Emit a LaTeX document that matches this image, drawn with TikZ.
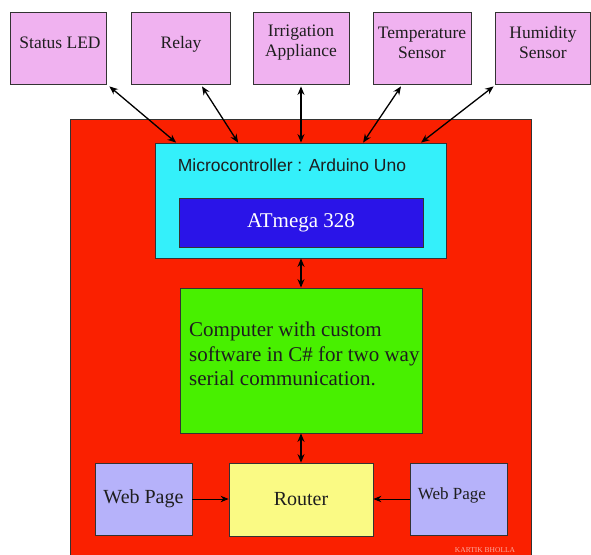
\documentclass[tikz,border=0pt]{standalone}
\usepackage{fontspec}
\setmainfont{Liberation Serif}
\newfontfamily\uisans{Liberation Sans}
\usetikzlibrary{arrows.meta,calc}
\definecolor{pinkbox}{RGB}{240,178,240}
\definecolor{redbg}{RGB}{250,32,0}
\definecolor{cyanbox}{RGB}{52,240,250}
\definecolor{bluebox}{RGB}{42,20,232}
\definecolor{greenbox}{RGB}{72,240,0}
\definecolor{yellowbox}{RGB}{250,250,132}
\definecolor{lavbox}{RGB}{182,178,250}
\definecolor{inktext}{RGB}{30,30,30}
\definecolor{signcol}{RGB}{250,170,160}
\tikzset{
  x=1pt,y=-1pt,
  boxbase/.style={draw=black!80,line width=0.8pt,inner sep=0pt,text=inktext,align=center},
  topbox/.style={boxbase,fill=pinkbox,minimum height=72pt},
  toptext/.style={inner sep=0pt,text=inktext,align=center,font=\rmfamily\fontsize{17.5}{20}\selectfont},
  webbox/.style={boxbase,fill=lavbox,minimum height=72pt},
  biarrow/.style={{Stealth[length=8.5pt,width=7pt]}-{Stealth[length=8.5pt,width=7pt]},line width=1.3pt,black},
  onearrow/.style={-{Stealth[length=8pt,width=6.5pt]},line width=0.9pt,black},
}
\begin{document}
\begin{tikzpicture}
\useasboundingbox (0,0) rectangle (591,554);
\fill[white] (0,0) rectangle (591,554);
% red background
\draw[fill=redbg,draw=black!80,line width=0.8pt] (70,119) rectangle (531,560);
% top boxes
\node[topbox,minimum width=96pt] (sled) at (58,48) {};
\node[topbox,minimum width=99pt] (relay) at (180.5,48) {};
\node[topbox,minimum width=96pt] (irr) at (301,48) {};
\node[topbox,minimum width=98pt] (temp) at (422,48) {};
\node[topbox,minimum width=95pt] (hum) at (542.5,48) {};
\node[toptext] (sledtxt) at (60,43) {Status LED};
\node[toptext] (relaytxt) at (181,44) {Relay};
\node[toptext] (irrtxt) at (301,42.5) {Irrigation\\Appliance};
\node[toptext] (temptxt) at (422,42.5) {Temperature\\Sensor};
\node[toptext] (humtxt) at (543,42.5) {Humidity\\Sensor};
% microcontroller
\node[boxbase,fill=cyanbox,minimum width=291pt,minimum height=115pt] (mcu) at (300.5,200.5) {};
\node[text=inktext,font=\uisans\fontsize{17.5}{20}\selectfont,inner sep=0pt] (mcutxt) at (292,165) {Microcontroller : Arduino Uno};
\node[boxbase,fill=bluebox,minimum width=244pt,minimum height=49pt,text=white,font=\fontsize{21}{24}\selectfont] (atm) at (301,222.5) {ATmega 328};
% computer
\node[boxbase,fill=greenbox,minimum width=242pt,minimum height=145pt] (pc) at (301,360.5) {};
\node[text=inktext,align=left,inner sep=0pt,anchor=west,font=\fontsize{21}{24.5}\selectfont] (pctxt) at (189,354) {Computer with custom\\software in C\# for two way\\serial communication.};
% bottom row
\node[boxbase,fill=yellowbox,minimum width=144pt,minimum height=73pt,font=\fontsize{20}{24}\selectfont] (router) at (301,499.5) {Router};
\node[webbox,minimum width=97pt,font=\fontsize{20}{24}\selectfont] (wp1) at (143.5,499) {Web Page};
\node[webbox,minimum width=97pt] (wp2) at (458.5,499) {};
\node[text=inktext,inner sep=0pt,font=\fontsize{17}{20}\selectfont] (wp2txt) at (452,495) {Web Page};
% signature
\node[text=signcol,inner sep=0pt,font=\fontsize{7.5}{9}\selectfont] (sign) at (485,550) {KARTIK BHOLLA};
% top arrows
\coordinate (s1) at ($(sled.south east)+(3,2)$);
\coordinate (e1) at ($(mcu.north west)+(21.5,0)$);
\coordinate (s2) at ($(relay.south)+(21.5,2)$);
\coordinate (e2) at ($(mcu.north west)+(83.5,0)$);
\coordinate (s3) at ($(irr.south)+(0,2)$);
\coordinate (s4) at ($(temp.south)+(-21,2)$);
\coordinate (e4) at ($(mcu.north west)+(208.5,0)$);
\coordinate (s5) at ($(hum.south west)+(-1,2)$);
\coordinate (e5) at ($(mcu.north west)+(266.5,0)$);
\draw[biarrow] (s1) -- (e1);
\draw[biarrow] (s2) -- (e2);
\draw[biarrow] (s3) -- (s3 |- mcu.north);
\draw[biarrow] (s4) -- (e4);
\draw[biarrow] (s5) -- (e5);
% vertical links
\draw[biarrow] (mcu.south -| pc.north) -- (pc.north);
\draw[biarrow] (pc.south) -- (router.north);
% web pages
\draw[onearrow] (wp1.east) -- (wp1.east -| router.west);
\draw[onearrow] (wp2.west) -- (wp2.west -| router.east);
\end{tikzpicture}
\end{document}
